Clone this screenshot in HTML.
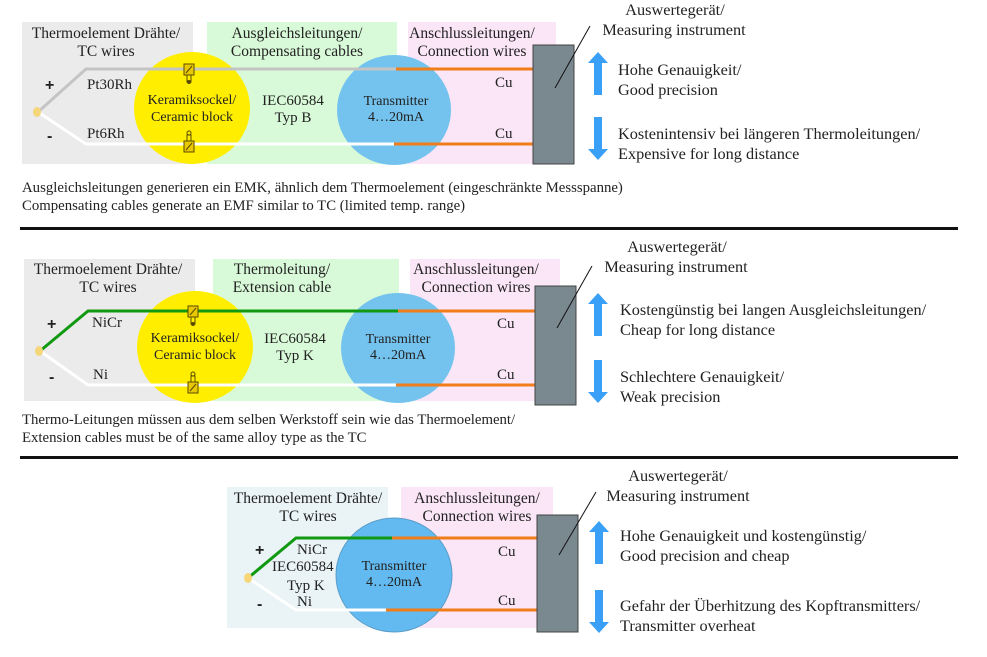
<!DOCTYPE html>
<html><head><meta charset="utf-8"><style>
html,body{margin:0;padding:0;background:#fff}
svg{display:block}
text{font-family:"Liberation Serif",serif;fill:#222}
.b{font-size:15.5px}
.l{font-size:15px}
.m{font-size:16.3px}
.r{font-size:16.3px}
.c{font-size:14px}
.cap{font-size:14.8px}
.pm{font-family:"Liberation Sans",sans-serif;font-size:16px;font-weight:bold}
</style></head><body>
<svg width="987" height="657" viewBox="0 0 987 657" xmlns="http://www.w3.org/2000/svg">
<defs>
<g id="up"><polygon points="0,0 10,11 4,11 4,43 -4,43 -4,11 -10,11" fill="#3aa0f7"/></g>
<g id="dn"><polygon points="0,43 10,32 4,32 4,0 -4,0 -4,32 -10,32" fill="#3aa0f7"/></g>
<g id="termA"><rect x="-5" y="-6" width="10" height="11" fill="#e8c800" stroke="#5a4a00" stroke-width="1"/><line x1="-3" y1="3" x2="3" y2="-4" stroke="#5a4a00"/><rect x="-2" y="5" width="4" height="7" fill="none" stroke="#5a4a00"/><circle cx="0" cy="12" r="2" fill="#5a4a00"/></g>
<g id="termB"><circle cx="0" cy="-12" r="2" fill="none" stroke="#5a4a00"/><rect x="-2" y="-10" width="4" height="6" fill="none" stroke="#5a4a00"/><rect x="-5" y="-4" width="10" height="11" fill="#e8c800" stroke="#5a4a00"/><line x1="-3" y1="5" x2="3" y2="-2" stroke="#5a4a00"/></g>
</defs>

<!-- SECTION 1 -->
<rect x="22" y="22" width="171" height="142" fill="#ebebeb"/>
<rect x="207" y="22" width="190" height="142" fill="#d9fad9"/>
<rect x="408" y="22" width="148" height="142" fill="#fae6f7"/>
<ellipse cx="192" cy="108" rx="58" ry="56" fill="#ffee00"/>
<ellipse cx="394" cy="110" rx="57" ry="55" fill="#74c3ef"/>
<text class="b" x="106" y="38" text-anchor="middle">Thermoelement Drähte/</text>
<text class="b" x="106" y="56" text-anchor="middle">TC wires</text>
<text class="b" x="297" y="38" text-anchor="middle">Ausgleichsleitungen/</text>
<text class="b" x="297" y="56" text-anchor="middle">Compensating cables</text>
<text class="b" x="472" y="38" text-anchor="middle">Anschlussleitungen/</text>
<text class="b" x="472" y="56" text-anchor="middle">Connection wires</text>
<polyline points="38,112 86,69 396,69" fill="none" stroke="#c4c4c4" stroke-width="3"/>
<polyline points="38,112 86,144 394,144" fill="none" stroke="#fff" stroke-width="3"/>
<line x1="396" y1="69" x2="533" y2="69" stroke="#f07d1a" stroke-width="3"/>
<line x1="394" y1="144" x2="533" y2="144" stroke="#f07d1a" stroke-width="3"/>
<ellipse cx="37" cy="112" rx="4" ry="5" fill="#f5d77a"/>
<use href="#termA" x="189" y="70"/>
<use href="#termB" x="189" y="145"/>
<text class="pm" x="45" y="90">+</text>
<text class="pm" x="47" y="141">-</text>
<text class="l" x="87" y="89">Pt30Rh</text>
<text class="l" x="87" y="138">Pt6Rh</text>
<text class="c" x="192" y="104" text-anchor="middle">Keramiksockel/</text>
<text class="c" x="192" y="121" text-anchor="middle">Ceramic block</text>
<text class="l" x="293" y="105" text-anchor="middle">IEC60584</text>
<text class="l" x="293" y="122" text-anchor="middle">Typ B</text>
<text class="c" x="396" y="105" text-anchor="middle">Transmitter</text>
<text class="c" x="396" y="121" text-anchor="middle">4…20mA</text>
<text class="l" x="495" y="87">Cu</text>
<text class="l" x="495" y="138">Cu</text>
<rect x="533" y="45" width="41" height="119" fill="#7a8890" stroke="#444" stroke-width="1"/>
<line x1="555" y1="88" x2="590" y2="26" stroke="#111" stroke-width="1"/>
<text class="m" x="675" y="15" text-anchor="middle">Auswertegerät/</text>
<text class="m" x="674" y="35" text-anchor="middle">Measuring instrument</text>
<use href="#up" x="598" y="52"/>
<use href="#dn" x="598" y="117"/>
<text class="r" x="618" y="75">Hohe Genauigkeit/</text>
<text class="r" x="618" y="95">Good precision</text>
<text class="r" x="618" y="139">Kostenintensiv bei längeren Thermoleitungen/</text>
<text class="r" x="618" y="159">Expensive for long distance</text>
<text class="cap" x="22" y="192">Ausgleichsleitungen generieren ein EMK, ähnlich dem Thermoelement (eingeschränkte Messspanne)</text>
<text class="cap" x="22" y="210">Compensating cables generate an EMF similar to TC (limited temp.  range)</text>
<rect x="20" y="227" width="938" height="3" fill="#111"/>

<!-- SECTION 2 -->
<rect x="24" y="259" width="171" height="142" fill="#ebebeb"/>
<rect x="213" y="259" width="186" height="142" fill="#d9fad9"/>
<rect x="410" y="259" width="150" height="142" fill="#fae6f7"/>
<ellipse cx="195" cy="347" rx="58" ry="56" fill="#ffee00"/>
<ellipse cx="398" cy="348" rx="57" ry="55" fill="#74c3ef"/>
<text class="b" x="108" y="274" text-anchor="middle">Thermoelement Drähte/</text>
<text class="b" x="108" y="292" text-anchor="middle">TC wires</text>
<text class="b" x="282" y="274" text-anchor="middle">Thermoleitung/</text>
<text class="b" x="282" y="292" text-anchor="middle">Extension cable</text>
<text class="b" x="476" y="274" text-anchor="middle">Anschlussleitungen/</text>
<text class="b" x="476" y="292" text-anchor="middle">Connection wires</text>
<polyline points="40,351 88,311 398,311" fill="none" stroke="#119911" stroke-width="3"/>
<polyline points="40,351 88,385 396,385" fill="none" stroke="#fff" stroke-width="3"/>
<line x1="398" y1="311" x2="535" y2="311" stroke="#f07d1a" stroke-width="3"/>
<line x1="396" y1="385" x2="535" y2="385" stroke="#f07d1a" stroke-width="3"/>
<ellipse cx="39" cy="351" rx="4" ry="5" fill="#f5d77a"/>
<use href="#termA" x="193" y="312"/>
<use href="#termB" x="193" y="386"/>
<text class="pm" x="47" y="329">+</text>
<text class="pm" x="49" y="382">-</text>
<text class="l" x="92" y="327">NiCr</text>
<text class="l" x="93" y="379">Ni</text>
<text class="c" x="195" y="342" text-anchor="middle">Keramiksockel/</text>
<text class="c" x="195" y="359" text-anchor="middle">Ceramic block</text>
<text class="l" x="295" y="343" text-anchor="middle">IEC60584</text>
<text class="l" x="295" y="360" text-anchor="middle">Typ K</text>
<text class="c" x="398" y="343" text-anchor="middle">Transmitter</text>
<text class="c" x="398" y="359" text-anchor="middle">4…20mA</text>
<text class="l" x="497" y="328">Cu</text>
<text class="l" x="497" y="379">Cu</text>
<rect x="535" y="286" width="41" height="119" fill="#7a8890" stroke="#444"/>
<line x1="557" y1="328" x2="592" y2="266" stroke="#111"/>
<text class="m" x="677" y="252" text-anchor="middle">Auswertegerät/</text>
<text class="m" x="676" y="272" text-anchor="middle">Measuring instrument</text>
<use href="#up" x="598" y="293"/>
<use href="#dn" x="598" y="360"/>
<text class="r" x="620" y="315">Kostengünstig bei langen Ausgleichsleitungen/</text>
<text class="r" x="620" y="335">Cheap for long distance</text>
<text class="r" x="620" y="382">Schlechtere Genauigkeit/</text>
<text class="r" x="620" y="402">Weak precision</text>
<text class="cap" x="22" y="424">Thermo-Leitungen müssen aus dem selben Werkstoff sein wie das Thermoelement/</text>
<text class="cap" x="22" y="442">Extension cables must be of the same alloy type as the TC</text>
<rect x="20" y="456" width="938" height="3" fill="#111"/>

<!-- SECTION 3 -->
<rect x="227" y="487" width="161" height="141" fill="#eaf4f6"/>
<rect x="401" y="487" width="152" height="141" fill="#fae6f7"/>
<ellipse cx="394" cy="575" rx="58" ry="57" fill="#62baf0" stroke="#5b9dc9" stroke-width="1"/>
<text class="b" x="308" y="503" text-anchor="middle">Thermoelement Drähte/</text>
<text class="b" x="308" y="521" text-anchor="middle">TC wires</text>
<text class="b" x="477" y="503" text-anchor="middle">Anschlussleitungen/</text>
<text class="b" x="477" y="521" text-anchor="middle">Connection wires</text>
<polyline points="248,578 296,538 392,538" fill="none" stroke="#119911" stroke-width="3"/>
<polyline points="248,578 296,610 386,610" fill="none" stroke="#fff" stroke-width="3"/>
<line x1="392" y1="538" x2="537" y2="538" stroke="#f07d1a" stroke-width="3"/>
<line x1="386" y1="610" x2="537" y2="610" stroke="#f07d1a" stroke-width="3"/>
<ellipse cx="248" cy="578" rx="4" ry="5" fill="#f5d77a"/>
<text class="pm" x="255" y="555">+</text>
<text class="pm" x="257" y="609">-</text>
<text class="l" x="297" y="554">NiCr</text>
<text class="l" x="272" y="571">IEC60584</text>
<text class="l" x="287" y="590">Typ K</text>
<text class="l" x="297" y="606">Ni</text>
<text class="c" x="394" y="570" text-anchor="middle">Transmitter</text>
<text class="c" x="394" y="586" text-anchor="middle">4…20mA</text>
<text class="l" x="498" y="556">Cu</text>
<text class="l" x="498" y="605">Cu</text>
<rect x="537" y="515" width="41" height="117" fill="#7a8890" stroke="#444"/>
<line x1="559" y1="555" x2="596" y2="492" stroke="#111"/>
<text class="m" x="678" y="481" text-anchor="middle">Auswertegerät/</text>
<text class="m" x="678" y="501" text-anchor="middle">Measuring instrument</text>
<use href="#up" x="599" y="521"/>
<use href="#dn" x="599" y="590"/>
<text class="r" x="620" y="541">Hohe Genauigkeit und kostengünstig/</text>
<text class="r" x="620" y="561">Good precision and cheap</text>
<text class="r" x="620" y="611">Gefahr der Überhitzung des Kopftransmitters/</text>
<text class="r" x="620" y="631">Transmitter overheat</text>
</svg>
</body></html>
